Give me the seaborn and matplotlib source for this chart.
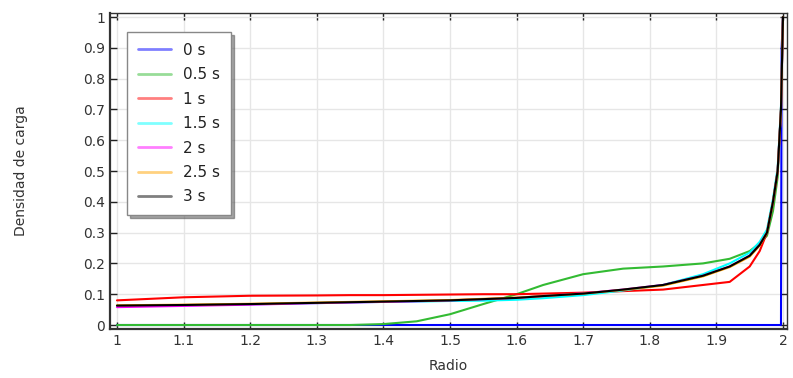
import numpy as np
import pandas as pd
import matplotlib
matplotlib.use("Agg")
import matplotlib.pyplot as plt
import seaborn as sns
from matplotlib.lines import Line2D

sns.set_theme(style="white")
plt.rcParams['font.family'] = ['DejaVu Sans']

# Radial positions and charge density curves for each time
r = [1.0, 1.1, 1.2, 1.3, 1.35, 1.4, 1.45, 1.5, 1.55, 1.6, 1.64, 1.7, 1.76, 1.82,
     1.88, 1.92, 1.95, 1.965, 1.976, 1.985, 1.992, 1.997, 2.0]

t0_r = [1.0, 1.5, 1.997, 1.998, 2.0]
t0 = [0.0, 0.0, 0.0, 0.9, 1.0]

t05 = [0.0, 0.0, 0.0, 0.0, 0.0, 0.003, 0.012, 0.035, 0.068, 0.1, 0.13, 0.165, 0.183,
       0.19, 0.2, 0.215, 0.24, 0.265, 0.29, 0.37, 0.48, 0.7, 1.0]
t1 = [0.08, 0.09, 0.095, 0.096, 0.097, 0.097, 0.098, 0.099, 0.1, 0.1, 0.102, 0.105,
      0.11, 0.115, 0.13, 0.14, 0.19, 0.24, 0.3, 0.4, 0.5, 0.7, 1.0]
t15 = [0.062, 0.064, 0.067, 0.071, 0.073, 0.075, 0.076, 0.078, 0.079, 0.082, 0.087,
       0.097, 0.112, 0.13, 0.165, 0.2, 0.235, 0.27, 0.31, 0.41, 0.51, 0.71, 1.0]
t2 = [0.058, 0.062, 0.066, 0.071, 0.073, 0.075, 0.077, 0.08, 0.084, 0.088, 0.094,
      0.103, 0.115, 0.13, 0.16, 0.19, 0.225, 0.26, 0.3, 0.4, 0.5, 0.7, 1.0]
t25 = [0.064, 0.066, 0.069, 0.073, 0.075, 0.077, 0.079, 0.081, 0.085, 0.089, 0.094,
       0.102, 0.114, 0.128, 0.158, 0.188, 0.222, 0.258, 0.3, 0.4, 0.5, 0.7, 1.0]
t3 = [0.063, 0.065, 0.068, 0.072, 0.074, 0.076, 0.078, 0.08, 0.084, 0.088, 0.094,
      0.102, 0.115, 0.13, 0.16, 0.19, 0.225, 0.26, 0.3, 0.4, 0.5, 0.7, 1.0]

labels = ["0 s", "0.5 s", "1 s", "1.5 s", "2 s", "2.5 s", "3 s"]
colors = ["#0000ff", "#33bb33", "#ff0000", "#00ffff", "#ff00ff", "#ffa500", "#000000"]

frames = [pd.DataFrame({"Radio": t0_r, "rho": t0, "t": labels[0]})]
for lab, vals in zip(labels[1:], [t05, t1, t15, t2, t25, t3]):
    frames.append(pd.DataFrame({"Radio": r, "rho": vals, "t": lab}))
df = pd.concat(frames, ignore_index=True)

fig = plt.figure(figsize=(7.93, 3.78), dpi=100)
ax = fig.add_axes([0.1387, 0.1296, 0.8537, 0.836])

sns.lineplot(data=df, x="Radio", y="rho", hue="t", hue_order=labels,
             palette=dict(zip(labels, colors)), estimator=None, sort=False,
             linewidth=1.5, legend=False, ax=ax)

ax.set_xlim(0.9895, 2.006)
ax.set_ylim(-0.013, 1.013)
ax.set_xticks(np.arange(1.0, 2.01, 0.1))
ax.set_xticklabels(["1", "1.1", "1.2", "1.3", "1.4", "1.5", "1.6", "1.7", "1.8", "1.9", "2"])
ax.set_yticks(np.arange(0, 1.01, 0.1))
ax.set_yticklabels(["0", "0.1", "0.2", "0.3", "0.4", "0.5", "0.6", "0.7", "0.8", "0.9", "1"])
ax.grid(True, color="#e6e6e6", linewidth=1)
ax.tick_params(axis="both", which="both", direction="in", length=5, width=1,
               colors="#222222", labelsize=10, top=True, right=True, left=True, bottom=True,
               labelcolor="#333333")
for side, sp in ax.spines.items():
    sp.set_color("#333333")
    sp.set_linewidth(1.0)
ax.spines["left"].set_linewidth(1.6)
ax.spines["bottom"].set_linewidth(1.6)

ax.set_xlabel("Radio", fontsize=10, color="#333333", labelpad=8)
ax.set_ylabel("Densidad de carga", fontsize=10, color="#333333", labelpad=40)

handles = [Line2D([0], [0], color=c, lw=2, alpha=0.5) for c in colors]
leg = ax.legend(handles, labels, loc="upper left", bbox_to_anchor=(0.025, 0.94),
                borderaxespad=0, fontsize=11, frameon=True, fancybox=False, shadow=True,
                handlelength=2.2, handletextpad=0.8, labelspacing=0.62, borderpad=0.7)
leg.get_frame().set_edgecolor("#888888")
leg.get_frame().set_linewidth(1.0)
for txt in leg.get_texts():
    txt.set_color("#222222")

fig.savefig("out.png", dpi=100)
